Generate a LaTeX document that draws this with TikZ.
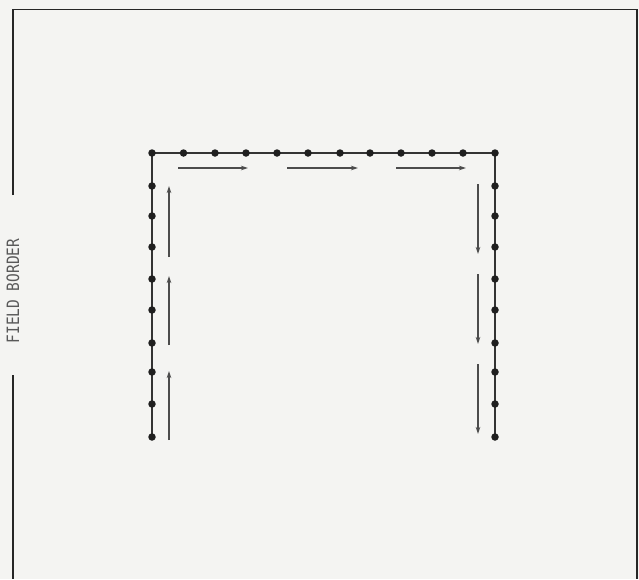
\documentclass[tikz,border=0pt]{standalone}
\usepackage{fontspec}
\newfontfamily\monof{DejaVu Sans Mono}
\usetikzlibrary{arrows.meta}
\definecolor{paper}{RGB}{244,244,242}
\begin{document}
\begin{tikzpicture}[x=1pt,y=-1pt,
  dotnode/.style={circle,fill=black!88,inner sep=0pt,minimum size=7.5pt},
  pathline/.style={draw=black!80,line width=1.9pt},
  framelin/.style={draw=black!85,line width=1.9pt},
  flow/.style={draw=black!70,line width=1.3pt,-{Stealth[length=7pt,width=4.5pt]}},
  labeltext/.style={rotate=90,text=black!65,inner sep=0pt,font=\monof\fontsize{17}{17}\selectfont}]
\useasboundingbox (0,0) rectangle (639,579);
\fill[paper] (0,0) rectangle (639,579);
% frame (field border)
\coordinate (fbl) at (12.7,579);
\coordinate (ftl) at (12.7,9.5);
\coordinate (ftr) at (637,9.5);
\coordinate (fbr) at (637,579);
\coordinate (gapTop) at (12.7,195);
\coordinate (gapBot) at (12.7,375);
\draw[framelin] (gapTop) -- (ftl) -- (ftr) -- (fbr);
\draw[framelin] (gapBot) -- (fbl);
\node[labeltext] (border) at (13,291) {\scalebox{0.85}[1]{FIELD BORDER}};
% row path
\coordinate (cTL) at (152,153);
\coordinate (cTR) at (495,153);
\coordinate (cBL) at (152,437);
\coordinate (cBR) at (495,437);
\draw[pathline] (cBL) -- (cTL) -- (cTR) -- (cBR);
% dots
\foreach \x [count=\i] in {152,183.5,215,246,277,308,340,370,401,432,463,495}
  \node[dotnode] (t\i) at (\x,153) {};
\foreach \y [count=\i] in {186,216,247,279,310,343,372,404,437}
  \node[dotnode] (l\i) at (152,\y) {};
\foreach \y [count=\i] in {186,216,247,279,310,343,372,404,437}
  \node[dotnode] (r\i) at (495,\y) {};
% travel direction arrows
\coordinate (ta1) at (178,168); \coordinate (tb1) at (248,168);
\coordinate (ta2) at (287,168); \coordinate (tb2) at (358,168);
\coordinate (ta3) at (396,168); \coordinate (tb3) at (466,168);
\draw[flow] (ta1) -- (tb1);
\draw[flow] (ta2) -- (tb2);
\draw[flow] (ta3) -- (tb3);
\coordinate (la1) at (169,257); \coordinate (lb1) at (169,186);
\coordinate (la2) at (169,345); \coordinate (lb2) at (169,276);
\coordinate (la3) at (169,440); \coordinate (lb3) at (169,371);
\draw[flow] (la1) -- (lb1);
\draw[flow] (la2) -- (lb2);
\draw[flow] (la3) -- (lb3);
\coordinate (ra1) at (478,184); \coordinate (rb1) at (478,254);
\coordinate (ra2) at (478,274); \coordinate (rb2) at (478,344);
\coordinate (ra3) at (478,364); \coordinate (rb3) at (478,434);
\draw[flow] (ra1) -- (rb1);
\draw[flow] (ra2) -- (rb2);
\draw[flow] (ra3) -- (rb3);
\end{tikzpicture}
\end{document}
